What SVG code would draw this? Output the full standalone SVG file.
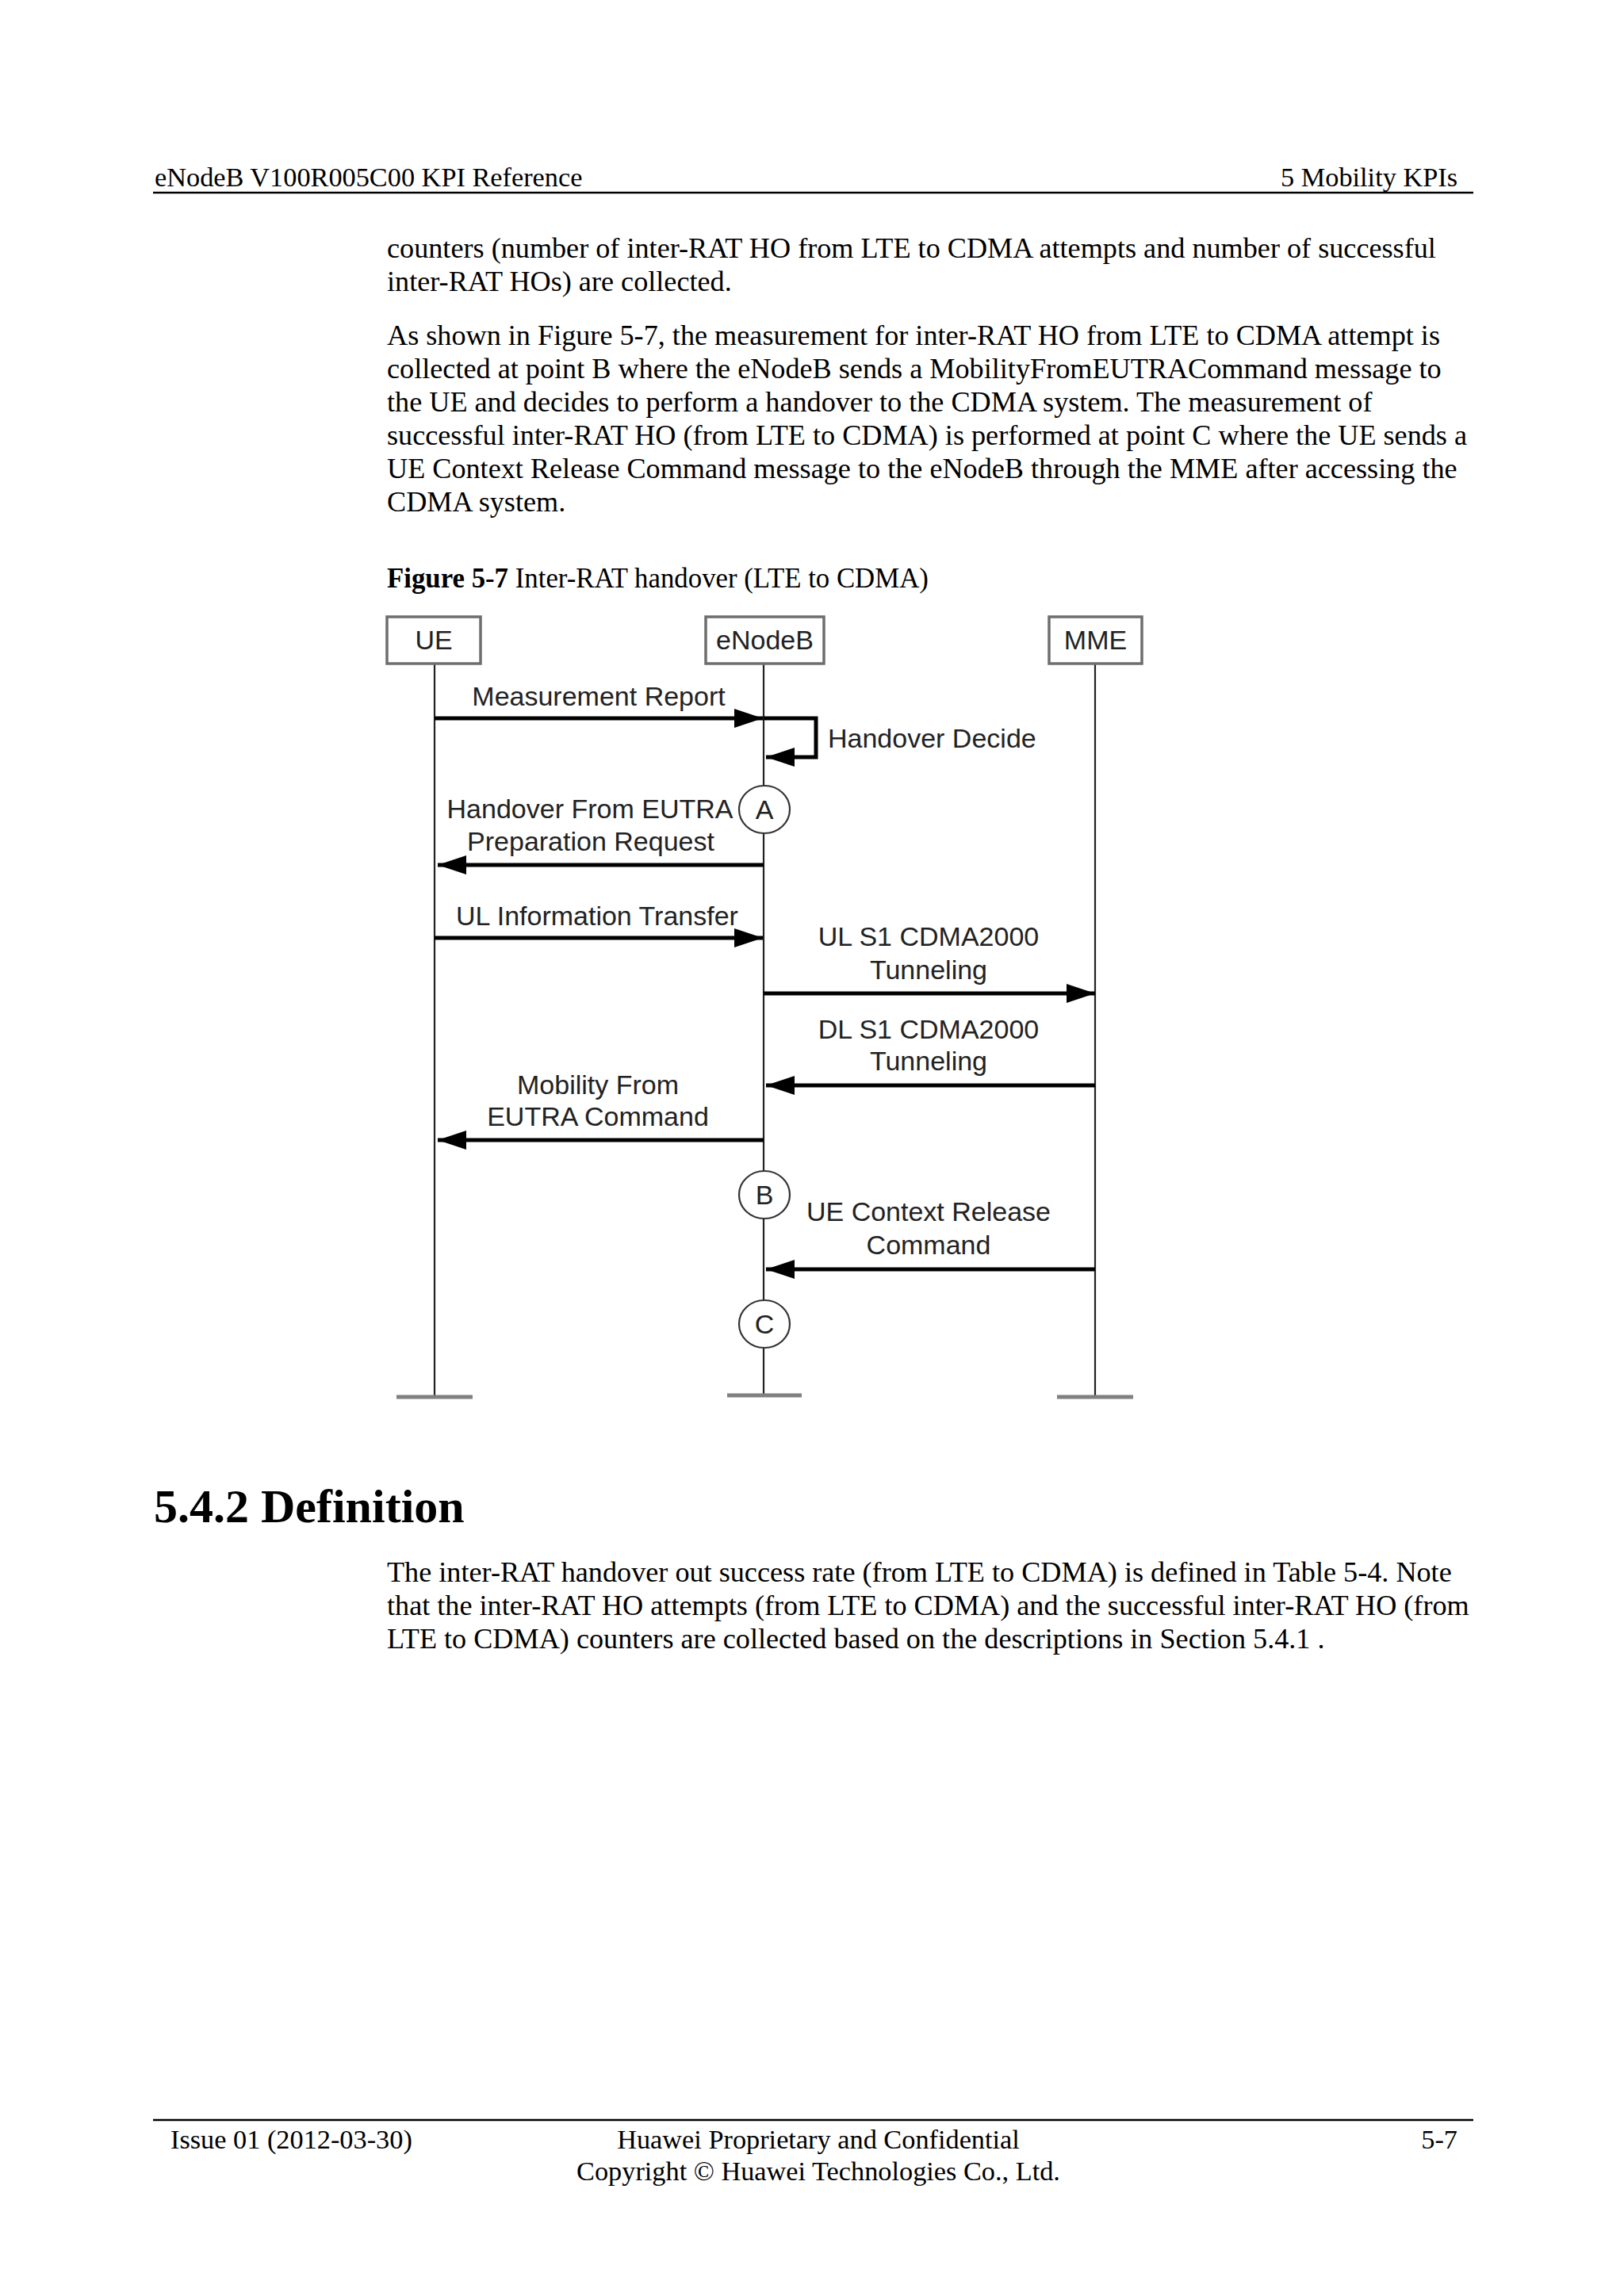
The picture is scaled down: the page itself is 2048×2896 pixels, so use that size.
<svg xmlns="http://www.w3.org/2000/svg" width="2048" height="2896" viewBox="0 0 2048 2896">
<style>
.hdr{font-family:"Liberation Serif","Times New Roman",serif;font-size:34.3px;fill:#000}
.body{font-family:"Liberation Serif","Times New Roman",serif;font-size:36.2px;fill:#000}
.cap{font-family:"Liberation Serif","Times New Roman",serif;font-size:34.8px;fill:#000}
.h2{font-family:"Liberation Serif","Times New Roman",serif;font-size:60px;font-weight:bold;fill:#000}
.lbl{font-family:"Liberation Sans",Arial,sans-serif;font-size:34px;fill:#222;text-anchor:middle}
.box{fill:#fff;stroke:#6e6e6e;stroke-width:3.5}
.life{stroke:#222;stroke-width:2.2}
.foot{stroke:#808080;stroke-width:5}
.msg{stroke:#000;stroke-width:5;fill:none}
.pt{fill:#fff;stroke:#333;stroke-width:2.2}
.rule{stroke:#000;stroke-width:2.5}
</style>
<defs>
<marker id="ah" viewBox="0 0 36 24" markerWidth="36" markerHeight="24" refX="36" refY="12" orient="auto" markerUnits="userSpaceOnUse">
<path d="M0,0 L36,12 L0,24 z" fill="#000"/>
</marker>
</defs>
<rect width="2048" height="2896" fill="#fff"/>

<g id="page-header">
<text class="hdr" x="195" y="235">eNodeB V100R005C00 KPI Reference</text>
<text class="hdr" x="1838" y="235" text-anchor="end">5 Mobility KPIs</text>
<line class="rule" x1="193" y1="243" x2="1858" y2="243"/>
</g>

<g id="intro-text">
<text class="body" x="488" y="325">counters (number of inter-RAT HO from LTE to CDMA attempts and number of successful</text>
<text class="body" x="488" y="367">inter-RAT HOs) are collected.</text>
<text class="body" x="488" y="435">As shown in Figure 5-7, the measurement for inter-RAT HO from LTE to CDMA attempt is</text>
<text class="body" x="488" y="477">collected at point B where the eNodeB sends a MobilityFromEUTRACommand message to</text>
<text class="body" x="488" y="519">the UE and decides to perform a handover to the CDMA system. The measurement of</text>
<text class="body" x="488" y="561">successful inter-RAT HO (from LTE to CDMA) is performed at point C where the UE sends a</text>
<text class="body" x="488" y="603">UE Context Release Command message to the eNodeB through the MME after accessing the</text>
<text class="body" x="488" y="645">CDMA system.</text>
</g>

<g id="caption">
<text class="cap" x="488" y="741"><tspan font-weight="bold">Figure 5-7</tspan> Inter-RAT handover (LTE to CDMA)</text>
</g>

<g id="lifelines">
<line class="life" x1="548" y1="837" x2="548" y2="1762"/>
<line class="life" x1="963" y1="837" x2="963" y2="1760"/>
<line class="life" x1="1381" y1="837" x2="1381" y2="1762"/>
<line class="foot" x1="500" y1="1762" x2="596" y2="1762"/>
<line class="foot" x1="917" y1="1760" x2="1011" y2="1760"/>
<line class="foot" x1="1333" y1="1762" x2="1429" y2="1762"/>
</g>

<g id="node-UE">
<rect class="box" x="488" y="778" width="118" height="59"/>
<text class="lbl" x="547" y="819">UE</text>
</g>
<g id="node-eNodeB">
<rect class="box" x="890" y="778" width="149" height="59"/>
<text class="lbl" x="964.5" y="819">eNodeB</text>
</g>
<g id="node-MME">
<rect class="box" x="1323" y="778" width="117" height="59"/>
<text class="lbl" x="1381.5" y="819">MME</text>
</g>

<g id="connectors">
<line class="msg" x1="548" y1="906" x2="962" y2="906" marker-end="url(#ah)"/>
<path class="msg" d="M963,906 H1029 V955 H966" marker-end="url(#ah)"/>
<line class="msg" x1="963" y1="1091" x2="552" y2="1091" marker-end="url(#ah)"/>
<line class="msg" x1="548" y1="1183" x2="962" y2="1183" marker-end="url(#ah)"/>
<line class="msg" x1="963" y1="1253" x2="1381" y2="1253" marker-end="url(#ah)"/>
<line class="msg" x1="1381" y1="1369" x2="966" y2="1369" marker-end="url(#ah)"/>
<line class="msg" x1="963" y1="1438" x2="552" y2="1438" marker-end="url(#ah)"/>
<line class="msg" x1="1381" y1="1601" x2="966" y2="1601" marker-end="url(#ah)"/>
</g>

<g id="message-labels">
<text class="lbl" x="755" y="890">Measurement Report</text>
<text class="lbl" x="1044" y="943" style="text-anchor:start">Handover Decide</text>
<text class="lbl" x="744" y="1032">Handover From EUTRA</text>
<text class="lbl" x="745" y="1073">Preparation Request</text>
<text class="lbl" x="753" y="1167">UL Information Transfer</text>
<text class="lbl" x="1171" y="1193">UL S1 CDMA2000</text>
<text class="lbl" x="1171" y="1235">Tunneling</text>
<text class="lbl" x="1171" y="1310">DL S1 CDMA2000</text>
<text class="lbl" x="1171" y="1350">Tunneling</text>
<text class="lbl" x="754" y="1380">Mobility From</text>
<text class="lbl" x="754" y="1420">EUTRA Command</text>
<text class="lbl" x="1171" y="1540">UE Context Release</text>
<text class="lbl" x="1171" y="1582">Command</text>
</g>

<g id="point-A">
<ellipse class="pt" cx="964" cy="1021" rx="32" ry="30"/>
<text class="lbl" x="964" y="1033">A</text>
</g>
<g id="point-B">
<ellipse class="pt" cx="964" cy="1507" rx="32" ry="30"/>
<text class="lbl" x="964" y="1519">B</text>
</g>
<g id="point-C">
<ellipse class="pt" cx="964" cy="1670" rx="32" ry="30"/>
<text class="lbl" x="964" y="1682">C</text>
</g>

<g id="definition">
<text class="h2" x="194" y="1920">5.4.2 Definition</text>
<text class="body" x="488" y="1995">The inter-RAT handover out success rate (from LTE to CDMA) is defined in Table 5-4. Note</text>
<text class="body" x="488" y="2037">that the inter-RAT HO attempts (from LTE to CDMA) and the successful inter-RAT HO (from</text>
<text class="body" x="488" y="2079">LTE to CDMA) counters are collected based on the descriptions in Section 5.4.1 .</text>
</g>

<g id="page-footer">
<line class="rule" x1="193" y1="2674" x2="1858" y2="2674"/>
<text class="hdr" x="215" y="2710">Issue 01 (2012-03-30)</text>
<text class="hdr" x="1032" y="2710" text-anchor="middle">Huawei Proprietary and Confidential</text>
<text class="hdr" x="1032" y="2750" text-anchor="middle">Copyright © Huawei Technologies Co., Ltd.</text>
<text class="hdr" x="1838" y="2710" text-anchor="end">5-7</text>
</g>
</svg>
